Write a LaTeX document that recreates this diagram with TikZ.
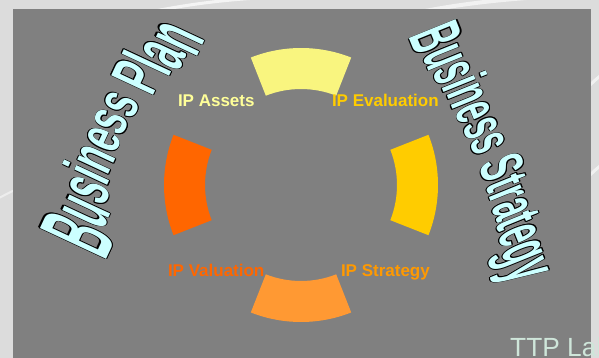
\documentclass[tikz,border=0pt]{standalone}
\usepackage{fontspec}
\setmainfont{Liberation Sans}
\usepackage{graphicx}
\usetikzlibrary{calc}
\definecolor{bgc}{HTML}{DCDCDC}
\definecolor{panel}{HTML}{808080}
\definecolor{wacyan}{HTML}{CCFFFF}
\definecolor{segtop}{HTML}{F9F57F}
\definecolor{segleft}{HTML}{FF6600}
\definecolor{segright}{HTML}{FFCC00}
\definecolor{segbot}{HTML}{FF9933}
\definecolor{labA}{HTML}{FFFF99}
\definecolor{labE}{HTML}{FFCC00}
\definecolor{labV}{HTML}{FF6600}
\definecolor{labS}{HTML}{FF9900}
\definecolor{ttpc}{HTML}{CFE6DA}
\newdimen\olw \olw=0.5pt
\newcommand\wach[1]{{\setbox0=\hbox{#1}%
\color{black}%
\rlap{\kern\olw\copy0}\rlap{\kern-\olw\copy0}%
\rlap{\raise\olw\copy0}\rlap{\lower\olw\copy0}%
\rlap{\kern.7\olw\raise.7\olw\copy0}\rlap{\kern-.7\olw\raise.7\olw\copy0}%
\rlap{\kern.7\olw\lower.7\olw\copy0}\rlap{\kern-.7\olw\lower.7\olw\copy0}%
\color{wacyan}\copy0}}
% \wl{name}{u}{baseline}{yscale}{char}
\newcommand\wl[5]{\node[wa, anchor=base west] (#1) at (#2,#3) {\scalebox{1}[#4]{\wach{#5}}};}
\tikzset{
  wa/.style={inner sep=0pt, outer sep=0pt, transform shape},
  lab/.style={inner sep=0pt, outer sep=0pt, anchor=base west, font=\fontsize{17pt}{20pt}\selectfont\bfseries},
}
\begin{document}
\begin{tikzpicture}[x=1pt,y=-1pt]
\useasboundingbox (0,0) rectangle (599,358);
\fill[bgc] (0,0) rectangle (599,358);
% light swooshes of the backdrop
\draw[white, opacity=0.7, line width=3pt] (150,12) .. controls (200,2) and (240,-2) .. (300,-4);
\draw[white, opacity=0.6, line width=4pt] (420,12) .. controls (480,0) and (540,-4) .. (610,-6);
\draw[white, opacity=0.6, line width=3pt] (585,90) .. controls (595,80) and (600,75) .. (610,70);
\draw[white, opacity=0.6, line width=3pt] (585,180) .. controls (595,170) and (600,165) .. (610,160);
\draw[white, opacity=0.5, line width=2pt] (-5,200) .. controls (5,195) and (10,192) .. (15,190);
\fill[panel] (13,9) rectangle (591,358);
% ring
\coordinate (c) at (301,185);
\fill[segtop] ($(c)+(248.5:137)$) arc[start angle=248.5, end angle=291.5, radius=137]
  -- ($(c)+(291.5:96)$) arc[start angle=291.5, end angle=248.5, radius=96] -- cycle;
\fill[segright] ($(c)+(-21.5:137)$) arc[start angle=-21.5, end angle=21.5, radius=137]
  -- ($(c)+(21.5:96)$) arc[start angle=21.5, end angle=-21.5, radius=96] -- cycle;
\fill[segbot] ($(c)+(68.5:137)$) arc[start angle=68.5, end angle=111.5, radius=137]
  -- ($(c)+(111.5:96)$) arc[start angle=111.5, end angle=68.5, radius=96] -- cycle;
\fill[segleft] ($(c)+(158.5:137)$) arc[start angle=158.5, end angle=201.5, radius=137]
  -- ($(c)+(201.5:96)$) arc[start angle=201.5, end angle=158.5, radius=96] -- cycle;
% labels
\node[lab, text=labA] (ipa) at (178,107) {IP Assets};
\node[lab, text=labE] (ipe) at (332,107) {IP Evaluation};
\node[lab, text=labV] (ipv) at (168,276) {IP Valuation};
\node[lab, text=labS] (ips) at (341,276) {IP Strategy};
% WordArt left: Business Plan
\begin{scope}[shift={(107,262)}, x=1pt, y=1pt, rotate=65,
  every node/.append style={font=\fontsize{35.7pt}{36pt}\selectfont\bfseries}]
\wl{l1}{0}{2}{2.97}{B}
\wl{l2}{25.8}{17.5}{2.38}{u}
\wl{l3}{47.6}{26.5}{2.08}{s}
\wl{l4}{67.4}{31.5}{1.92}{i}
\wl{l5}{77.4}{35.5}{1.80}{n}
\wl{l6}{99.2}{38.5}{1.70}{e}
\wl{l7}{119.0}{39.0}{1.69}{s}
\wl{l8}{138.9}{36.8}{1.72}{s}
\wl{l9}{168.6}{28.5}{1.88}{P}
\wl{l10}{192.5}{21.8}{2.02}{l}
\wl{l11}{202.4}{15.4}{2.16}{a}
\wl{l12}{222.2}{5.4}{2.40}{n}
\end{scope}
% WordArt right: Business Strategy
\begin{scope}[shift={(408,37)}, x=1pt, y=1pt, rotate=-68,
  every node/.append style={font=\fontsize{30.9pt}{31pt}\selectfont\bfseries}]
\wl{r1}{0}{1}{2.37}{B}
\wl{r2}{22.3}{6.5}{2.26}{u}
\wl{r3}{41.2}{9.9}{2.17}{s}
\wl{r4}{58.4}{12}{2.12}{i}
\wl{r5}{67.0}{14}{2.07}{n}
\wl{r6}{85.8}{16}{2.03}{e}
\wl{r7}{103.0}{17.3}{2.00}{s}
\wl{r8}{120.2}{17.9}{1.99}{s}
\wl{r9}{146.0}{17.4}{2.01}{S}
\wl{r10}{166.6}{16.4}{2.03}{t}
\wl{r11}{176.9}{15.3}{2.07}{r}
\wl{r12}{188.9}{13.4}{2.12}{a}
\wl{r13}{206.1}{11.4}{2.19}{t}
\wl{r14}{216.4}{9}{2.27}{e}
\wl{r15}{233.5}{5.6}{2.40}{g}
\wl{r16}{252.4}{1.9}{2.54}{y}
\end{scope}
% footer
\node[inner sep=0pt, anchor=base west, text=ttpc, font=\fontsize{26.3pt}{30pt}\selectfont] (ttp) at (510,356) {TTP Lab};
\end{tikzpicture}
\end{document}
